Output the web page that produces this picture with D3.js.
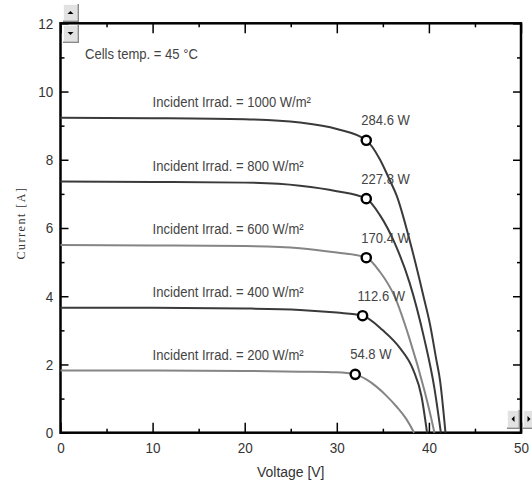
<!DOCTYPE html>
<html>
<meta charset="utf-8">
<head>
    <title>I-V curves</title>
    <script src="https://d3js.org/d3.v7.min.js"></script>
    <style>
        body { margin: 0; background: #fff; }
        text { font-family: "Liberation Sans", Arial, sans-serif; }
    </style>
</head>
<body>
    <div id="chart"></div>
</body>
</html>
<script>
    // data
    var irradiances = [1000, 800, 600, 400, 200];

    var v1000 = [0, 10, 20, 26, 30, 33.2, 34.7, 35.75, 36.5, 37.9, 39.0, 39.5, 40.1, 40.8, 41.2, 41.8];
    var i1000 = [9.23, 9.22, 9.19, 9.09, 8.9, 8.57, 8.0, 7.4, 6.95, 5.65, 4.47, 3.9, 3.2, 2.15, 1.55, 0];

    var v800 = [0, 10, 20, 26, 30, 33.2, 34.7, 36.3, 37.9, 39.5, 40.6, 41.3];
    var i800 = [7.36, 7.35, 7.33, 7.24, 7.08, 6.86, 6.37, 5.55, 4.4, 2.75, 1.3, 0];

    var v600 = [0, 10, 20, 26, 30, 33.2, 34.7, 36.3, 37.9, 39.5, 40.1, 40.6];
    var i600 = [5.5, 5.49, 5.47, 5.41, 5.28, 5.13, 4.71, 3.98, 2.75, 1.25, 0.6, 0];

    var v400 = [0, 10, 20, 26, 30, 32.8, 35.0, 36.8, 38.3, 39.2, 39.8];
    var i400 = [3.66, 3.66, 3.64, 3.6, 3.52, 3.43, 3.0, 2.5, 1.84, 1.06, 0];

    var v200 = [0, 10, 20, 26, 30, 32.0, 33.2, 34.3, 35.4, 36.5, 37.5, 38.4];
    var i200 = [1.82, 1.82, 1.81, 1.79, 1.77, 1.71, 1.56, 1.35, 1.08, 0.76, 0.42, 0];

    // maximum power points
    var mppV = [33.2, 33.2, 33.2, 32.8, 32.0];
    var mppI = [8.57, 6.86, 5.13, 3.43, 1.71];
    var mppLabels = ["284.6 W", "227.8 W", "170.4 W", "112.6 W", "54.8 W"];

    var xMajor = [0, 10, 20, 30, 40, 50];
    var xMinor = [5, 15, 25, 35, 45];
    var yMajor = [0, 2, 4, 6, 8, 10, 12];
    var yMinor = [1, 3, 5, 7, 9, 11];

    var curves = [
        { v: v1000, i: i1000 },
        { v: v800, i: i800 },
        { v: v600, i: i600 },
        { v: v400, i: i400 },
        { v: v200, i: i200 }
    ];
    var lineColors = ["#3a3a3a", "#3a3a3a", "#858585", "#3a3a3a", "#858585"];

    var width = 532, height = 483;
    var squeeze = 0.9;   // the original uses a narrow font

    var svg = d3.select("#chart")
        .append("svg")
        .attr("width", width)
        .attr("height", height);

    var x = d3.scaleLinear().domain([0, 50]).range([60.5, 521]);
    var y = d3.scaleLinear().domain([0, 12]).range([432.7, 23.3]);

    // narrow text helper
    function label(tx, ty, str, size, anchor, color) {
        return svg.append("text")
            .attr("transform", "translate(" + tx + "," + ty + ")scale(" + squeeze + ",1)")
            .attr("text-anchor", anchor || "start")
            .attr("font-size", size + "px")
            .attr("fill", color || "#444")
            .text(str);
    }

    // tick marks, all pointing inward
    function styleAxis(g) {
        g.select(".domain").remove();
        g.selectAll(".tick line").attr("stroke", "#000").attr("stroke-width", 1.5);
        g.selectAll("text")
            .attr("fill", "#333")
            .attr("font-size", "15px")
            .attr("transform", "scale(" + squeeze + ",1)");
    }

    svg.append("g")
        .attr("transform", "translate(0," + y(0) + ")")
        .call(d3.axisBottom(x).tickValues(xMajor).tickSizeInner(-10).tickSizeOuter(0).tickPadding(10).tickFormat(d3.format("d")))
        .call(styleAxis);
    svg.append("g")
        .attr("transform", "translate(0," + y(0) + ")")
        .call(d3.axisBottom(x).tickValues(xMinor).tickSizeInner(-4).tickSizeOuter(0).tickFormat(""))
        .call(styleAxis);
    svg.append("g")
        .attr("transform", "translate(0," + y(12) + ")")
        .call(d3.axisTop(x).tickValues(xMajor).tickSizeInner(-10).tickSizeOuter(0).tickFormat(""))
        .call(styleAxis);
    svg.append("g")
        .attr("transform", "translate(0," + y(12) + ")")
        .call(d3.axisTop(x).tickValues(xMinor).tickSizeInner(-4).tickSizeOuter(0).tickFormat(""))
        .call(styleAxis);

    svg.append("g")
        .attr("transform", "translate(" + x(0) + ",0)")
        .call(d3.axisLeft(y).tickValues(yMajor).tickSizeInner(-8).tickSizeOuter(0).tickPadding(8).tickFormat(d3.format("d")))
        .call(styleAxis);
    svg.append("g")
        .attr("transform", "translate(" + x(0) + ",0)")
        .call(d3.axisLeft(y).tickValues(yMinor).tickSizeInner(-4).tickSizeOuter(0).tickFormat(""))
        .call(styleAxis);
    svg.append("g")
        .attr("transform", "translate(" + x(50) + ",0)")
        .call(d3.axisRight(y).tickValues(yMajor).tickSizeInner(-8).tickSizeOuter(0).tickFormat(""))
        .call(styleAxis);
    svg.append("g")
        .attr("transform", "translate(" + x(50) + ",0)")
        .call(d3.axisRight(y).tickValues(yMinor).tickSizeInner(-4).tickSizeOuter(0).tickFormat(""))
        .call(styleAxis);

    // frame
    svg.append("rect")
        .attr("x", x(0))
        .attr("y", y(12))
        .attr("width", x(50) - x(0))
        .attr("height", y(0) - y(12))
        .attr("fill", "none")
        .attr("stroke", "#000")
        .attr("stroke-width", 2.5);

    // axis titles
    label((x(0) + x(50)) / 2, 477, "Voltage [V]", 15.5, "middle", "#333");
    svg.append("text")
        .attr("transform", "translate(25," + 223 + ")rotate(-90)")
        .attr("text-anchor", "middle")
        .attr("font-size", "12px")
        .attr("letter-spacing", "1.5px")
        .style("font-family", "'Liberation Serif', serif")
        .attr("fill", "#333")
        .text("Current [A]");

    label(85, 59, "Cells temp. = 45 °C", 14.5);

    // curves
    var line = d3.line()
        .x(function(d) { return x(d[0]); })
        .y(function(d) { return y(d[1]); })
        .curve(d3.curveMonotoneX);

    curves.forEach(function(c, k) {
        var pts = c.v.map(function(v, j) { return [v, c.i[j]]; });
        svg.append("path")
            .datum(pts)
            .attr("d", line)
            .attr("fill", "none")
            .attr("stroke", lineColors[k])
            .attr("stroke-width", 2);

        label(x(10), y(c.i[0]) - 11, "Incident Irrad. = " + irradiances[k] + " W/m²", 14.5);
    });

    // max power markers
    svg.selectAll("circle.mpp")
        .data(mppV)
        .enter()
        .append("circle")
        .attr("class", "mpp")
        .attr("cx", function(d) { return x(d); })
        .attr("cy", function(d, k) { return y(mppI[k]); })
        .attr("r", 4.6)
        .attr("fill", "#fff")
        .attr("stroke", "#000")
        .attr("stroke-width", 2.4);

    mppLabels.forEach(function(t, k) {
        label(x(mppV[k]) - 5, y(mppI[k]) - 15, t, 14.5);
    });

    // little scroll buttons
    function button(bx, by, w, h, dir) {
        var g = svg.append("g").attr("transform", "translate(" + bx + "," + by + ")");
        g.append("rect").attr("width", w).attr("height", h).attr("fill", "#8a8a8a");
        g.append("rect").attr("width", w - 1.5).attr("height", h - 1.5).attr("fill", "#fafafa");
        g.append("rect").attr("x", 1).attr("y", 1).attr("width", w - 3).attr("height", h - 3).attr("fill", "#e2e2e2");
        var cx = w / 2 - 0.5, cy = h / 2 - 0.5, s = 3;
        var tri;
        if (dir == "up") tri = [[cx - s, cy + 1.5], [cx + s, cy + 1.5], [cx, cy - 1.5]];
        if (dir == "down") tri = [[cx - s, cy - 1.5], [cx + s, cy - 1.5], [cx, cy + 1.5]];
        if (dir == "left") tri = [[cx + 1.5, cy - s], [cx + 1.5, cy + s], [cx - 1.5, cy]];
        if (dir == "right") tri = [[cx - 1.5, cy - s], [cx - 1.5, cy + s], [cx + 1.5, cy]];
        g.append("path").attr("d", "M" + tri.join("L") + "Z").attr("fill", "#000");
    }
    button(63, 4, 16, 18, "up");
    button(63, 25, 16, 18, "down");
    button(507, 410, 13, 19, "left");
    button(523, 410, 13, 19, "right");
</script>
